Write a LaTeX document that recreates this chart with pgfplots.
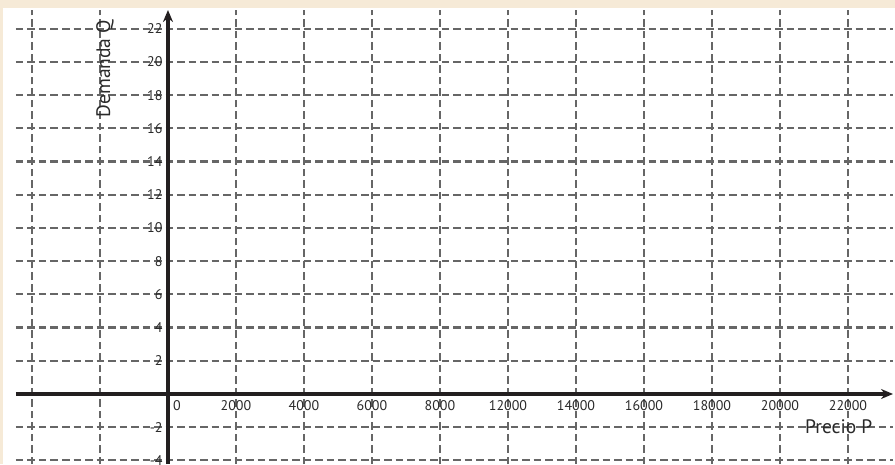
\documentclass[border=0pt]{standalone}
\usepackage{pgfplots}
\pgfplotsset{compat=1.18}
\usetikzlibrary{arrows.meta}
\usepackage{fontspec}
\setmainfont{PT Sans}
\definecolor{cream}{HTML}{F6EAD7}
\definecolor{gridgray}{HTML}{666666}
\definecolor{axisblack}{HTML}{231F20}
\definecolor{labelgray}{HTML}{2A2A2A}
\begin{document}
\begin{tikzpicture}[x=1pt,y=1pt]
\useasboundingbox (0,0) rectangle (895,464);
\fill[cream] (0,0) rectangle (895,464);
\fill[white] (3,0) rectangle (895,456);
\begin{axis}[
  at={(16pt,0pt)}, anchor=south west,
  scale only axis, width=877pt, height=454pt,
  xmin=-4470, xmax=21324, ymin=-4.217, ymax=23.13,
  axis lines=middle,
  scaled x ticks=false, scaled y ticks=false,
  axis line style={line width=3.2pt, color=axisblack, -{Stealth[length=12pt,width=10pt]}},
  grid=major,
  major grid style={gridgray, line width=2.2pt, dash pattern=on 7.5pt off 4pt},
  major tick length=0pt,
  xtick={-4000,-2000,0,2000,4000,6000,8000,10000,12000,14000,16000,18000,20000},
  xticklabels={,,,2000,4000,6000,8000,12000,14000,16000,18000,20000,22000},
  ytick={-4,-2,0,2,4,6,8,10,12,14,16,18,20,22},
  yticklabels={-4,-2,0,2,4,6,8,10,12,14,16,18,20,22},
  tick label style={font=\fontsize{14}{16}\selectfont, text=labelgray},
  xticklabel style={anchor=north, yshift=-3pt},
  yticklabel style={anchor=east, xshift=-2pt},
  clip=false,
]
\addplot[draw=none, mark=none] coordinates {(0,0)};
\node[anchor=north west, font=\fontsize{14}{16}\selectfont, text=labelgray, inner sep=0pt] at (axis cs:0,0) [xshift=5pt, yshift=-6pt] {0};
\node[rotate=90, font=\fontsize{19.5}{22}\selectfont, text=labelgray] at (axis cs:-1853,19.6) {Demanda Q};
\node[font=\fontsize{19.5}{22}\selectfont, text=labelgray, inner sep=0pt, anchor=west] at (axis cs:18735,-2.0) {Precio P};
\end{axis}
\end{tikzpicture}
\end{document}
